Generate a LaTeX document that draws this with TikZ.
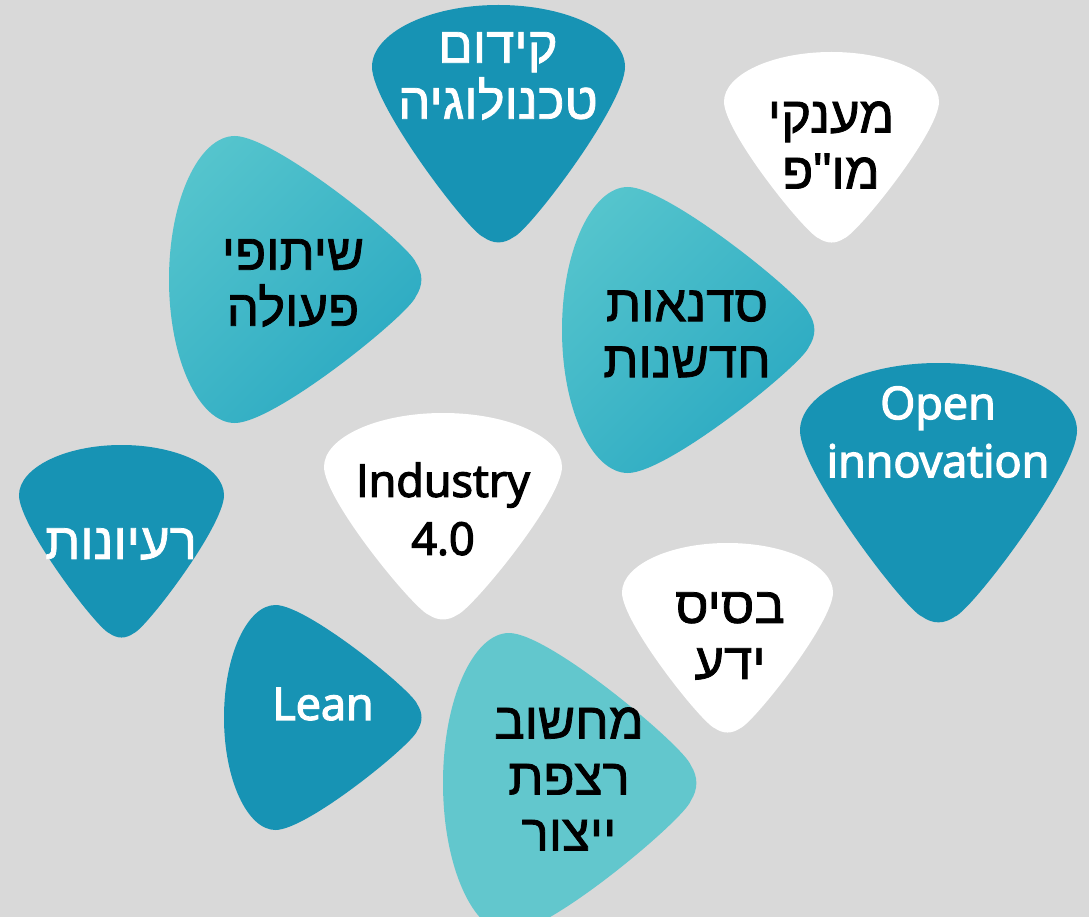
\documentclass[tikz,border=0pt]{standalone}
\usepackage{fontspec}
\TeXXeTstate=1
\newfontfamily\heb[Script=Hebrew,FakeBold=1.5]{Liberation Sans}
\newfontfamily\eng[FakeBold=3]{Open Sans}
\definecolor{bgc}{HTML}{D9D9D9}
\definecolor{darkteal}{RGB}{23,147,180}
\definecolor{lighttop}{HTML}{56C5CD}
\definecolor{lightbot}{HTML}{27A7C1}
\definecolor{solidlight}{HTML}{62C7CD}
\newcommand\pickpathdef{(-0.5,-0.24) .. controls (-0.5,-0.08) and (-0.12,0.45) .. (-0.06,0.475) .. controls (-0.02,0.505) and (0.02,0.505) .. (0.06,0.475) .. controls (0.12,0.45) and (0.5,-0.08) .. (0.5,-0.24) .. controls (0.5,-0.38) and (0.28,-0.5) .. (0,-0.5) .. controls (-0.28,-0.5) and (-0.5,-0.38) .. (-0.5,-0.24) -- cycle}
% #1 cx, #2 cy, #3 across, #4 along, #5 rotation, #6 fill colour
\newcommand\pickfill[6]{%
  \fill[#6, shift={(#1,#2)}, rotate=#5, xscale=#3, yscale=#4] \pickpathdef;}
\newcommand\pickshade[5]{%
  \begin{scope}
    \clip[shift={(#1,#2)}, rotate=#5, xscale=#3, yscale=#4] \pickpathdef;
    \shade[top color=lighttop, bottom color=lightbot, shading angle=45]
      ({#1-160},{#2-160}) rectangle ({#1+160},{#2+160});
  \end{scope}}
\tikzset{
  hebtxt/.style={align=center, inner sep=0pt, font=\heb\fontsize{51}{56}\selectfont},
  engtxt/.style={align=center, inner sep=0pt, font=\eng\fontsize{45}{58}\selectfont},
}
\begin{document}
\begin{tikzpicture}[x=1pt,y=-1pt]
\fill[bgc] (0,0) rectangle (1089,917);
\useasboundingbox (0,0) rectangle (1089,917);
\begin{scope}
\clip (0,0) rectangle (1089,917);
% down-pointing picks
\pickfill{498.5}{124}{253}{238}{0}{darkteal}
\pickfill{831.5}{147.5}{215}{191}{0}{white}
\pickfill{938.5}{493}{277}{260}{0}{darkteal}
\pickfill{121.5}{541.5}{205}{193}{0}{darkteal}
\pickfill{443}{516.5}{238}{207}{0}{white}
\pickfill{727.5}{638}{211}{190}{0}{white}
% right-pointing picks
\pickshade{295.5}{279.5}{287}{253}{90}
\pickshade{688.5}{330}{286}{253}{90}
\pickfill{570}{783}{300}{254}{90}{solidlight}
\pickfill{323}{717.5}{225}{198}{90}{darkteal}
\end{scope}
% texts
\node[hebtxt, text=white] (t1) at (498,76) {\beginR קידום\endR\\\beginR טכנולוגיה\endR};
\node[hebtxt, text=black] (t2) at (293,283) {\beginR שיתופי\endR\\\beginR פעולה\endR};
\node[hebtxt, text=black] (t3) at (687,334) {\beginR סדנאות\endR\\\beginR חדשנות\endR};
\node[engtxt, text=white] (t4) at (938,432) {Open\\innovation};
\node[hebtxt, text=white] (t5) at (121,544) {\beginR רעיונות\endR};
\node[hebtxt, text=black] (t6) at (569,779) {\beginR מחשוב\endR\\\beginR רצפת\endR\\\beginR ייצור\endR};
\node[hebtxt, text=black] (t7) at (831,145) {\beginR מענקי\endR\\\beginR מו"פ\endR};
\node[engtxt, text=black] (t8) at (443,509) {Industry\\4.0};
\node[hebtxt, text=black] (t9) at (730,636) {\beginR בסיס\endR\\\beginR ידע\endR};
\node[engtxt, text=white] (t10) at (323,704) {Lean};
\end{tikzpicture}
\end{document}
